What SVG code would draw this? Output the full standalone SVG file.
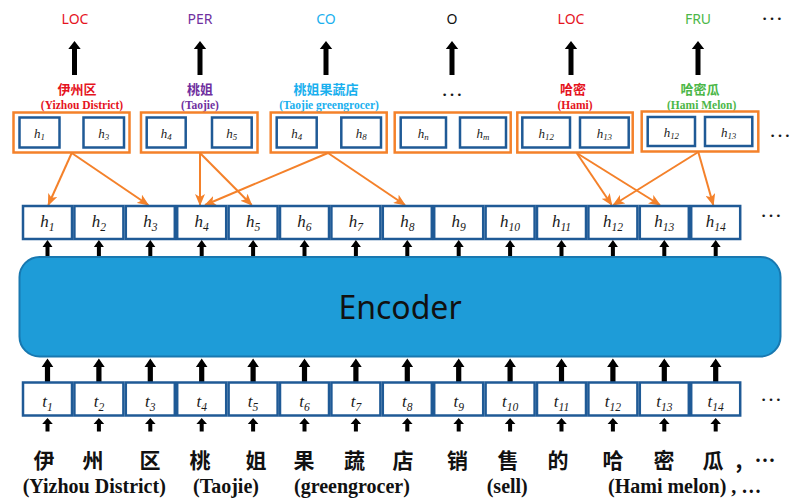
<svg xmlns="http://www.w3.org/2000/svg" xmlns:xlink="http://www.w3.org/1999/xlink" width="790" height="501" viewBox="0 0 790 501">
  <style>
    .tag { font-family: "Noto Sans", "Open Sans", sans-serif; font-size: 14px; text-anchor: middle; }
    .cn { font-family: "Noto Sans CJK SC", sans-serif; font-weight: bold; font-size: 13px; text-anchor: middle; }
    .en { font-family: "Liberation Serif", serif; font-weight: bold; font-size: 11.5px; text-anchor: middle; }
    .span { fill: #ffffff; stroke: #f4812a; stroke-width: 2.5; }
    .cell { fill: #ffffff; stroke: #1f5a96; stroke-width: 2.5; }
    .var { font-family: "Liberation Serif", serif; font-style: italic; text-anchor: middle; fill: #1a1a1a; }
    .hs { font-size: 13px; }
    .hb { font-size: 17px; }
    .sub { font-size: 0.68em; }
    .link { stroke: #f4812a; stroke-width: 2; fill: none; marker-end: url(#orangeHead); }
    .dots { font-family: "Liberation Serif", serif; font-size: 22px; fill: #1a1a1a; }
    .word { font-family: "Noto Sans CJK SC", sans-serif; font-weight: bold; font-size: 21px; text-anchor: middle; fill: #111; }
    .gloss { font-family: "Liberation Serif", serif; font-weight: bold; font-size: 20px; fill: #111; }
  </style>
  <defs>
    <marker id="orangeHead" markerUnits="userSpaceOnUse" markerWidth="12" markerHeight="10" refX="11" refY="5" orient="auto">
      <path d="M0,0 L12,5 L0,10 L3,5 Z" fill="#f4812a"/>
    </marker>
    <!-- large output arrow, tip at origin -->
    <path id="bigUp" d="M0,0 L6.2,8 L2.5,8 L2.5,34 L-2.5,34 L-2.5,8 L-6.2,8 Z" fill="#000"/>
    <!-- encoder to hidden state -->
    <path id="upA" d="M0,0 L5,7 L2,7 L2,16 L-2,16 L-2,7 L-5,7 Z" fill="#000"/>
    <!-- token to encoder -->
    <path id="upB" d="M0,0 L5.8,8.5 L2.6,8.5 L2.6,24 L-2.6,24 L-2.6,8.5 L-5.8,8.5 Z" fill="#000"/>
    <!-- word to token -->
    <path id="upC" d="M0,0 L5.3,6 L2,6 L2,13.5 L-2,13.5 L-2,6 L-5.3,6 Z" fill="#000"/>
  </defs>

  <!-- entity type labels and output arrows -->
  <g id="outputs">
    <text class="tag" x="75" y="24" fill="#e5141e">LOC</text>
    <text class="tag" x="200" y="24" fill="#7030a0">PER</text>
    <text class="tag" x="326" y="24" fill="#1ab0ee">CO</text>
    <text class="tag" x="452" y="24" fill="#111">O</text>
    <text class="tag" x="571" y="24" fill="#e5141e">LOC</text>
    <text class="tag" x="698" y="24" fill="#4cb748">FRU</text>
    <text class="dots" x="761" y="20">…</text>
    <use xlink:href="#bigUp" x="74.5" y="41"/>
    <use xlink:href="#bigUp" x="200" y="41"/>
    <use xlink:href="#bigUp" x="326" y="41"/>
    <use xlink:href="#bigUp" x="452" y="41"/>
    <use xlink:href="#bigUp" x="571" y="41"/>
    <use xlink:href="#bigUp" x="698" y="41"/>
  </g>

  <!-- candidate spans -->
  <g id="span1">
    <text class="cn" x="77" y="94" fill="#e5141e">伊州区</text>
    <text class="en" x="82" y="109" fill="#e5141e">(Yizhou District)</text>
    <rect class="span" x="13.5" y="112.5" width="116" height="40"/>
    <rect class="cell" x="19.5" y="117.5" width="40" height="30"/>
    <rect class="cell" x="83.5" y="117.5" width="40.5" height="30"/>
    <text class="var hs" x="39.5" y="137.5">h<tspan class="sub" dy="2">1</tspan></text>
    <text class="var hs" x="103.7" y="137.5">h<tspan class="sub" dy="2">3</tspan></text>
  </g>
  <g id="span2">
    <text class="cn" x="200" y="94" fill="#7030a0">桃姐</text>
    <text class="en" x="200" y="109" fill="#7030a0">(Taojie)</text>
    <rect class="span" x="141" y="112.5" width="116.5" height="40"/>
    <rect class="cell" x="146.7" y="117.5" width="39" height="30"/>
    <rect class="cell" x="212" y="117.5" width="39.7" height="30"/>
    <text class="var hs" x="166.2" y="137.5">h<tspan class="sub" dy="2">4</tspan></text>
    <text class="var hs" x="231.8" y="137.5">h<tspan class="sub" dy="2">5</tspan></text>
  </g>
  <g id="span3">
    <text class="cn" x="326" y="94" fill="#1ab0ee">桃姐果蔬店</text>
    <text class="en" x="329" y="109" fill="#1ab0ee">(Taojie greengrocer)</text>
    <rect class="span" x="270.7" y="112.5" width="116" height="40"/>
    <rect class="cell" x="276.7" y="117.5" width="40" height="30"/>
    <rect class="cell" x="341.3" y="117.5" width="39.7" height="30"/>
    <text class="var hs" x="296.7" y="137.5">h<tspan class="sub" dy="2">4</tspan></text>
    <text class="var hs" x="361.2" y="137.5">h<tspan class="sub" dy="2">8</tspan></text>
  </g>
  <g id="span4">
    <text class="dots" x="441" y="96">…</text>
    <rect class="span" x="394.7" y="112.5" width="116" height="40"/>
    <rect class="cell" x="400.7" y="117.5" width="45.3" height="30"/>
    <rect class="cell" x="460" y="117.5" width="46" height="30"/>
    <text class="var hs" x="423.3" y="137.5">h<tspan class="sub" dy="2">n</tspan></text>
    <text class="var hs" x="483" y="137.5">h<tspan class="sub" dy="2">m</tspan></text>
  </g>
  <g id="span5">
    <text class="cn" x="573" y="94" fill="#e5141e">哈密</text>
    <text class="en" x="575" y="109" fill="#e5141e">(Hami)</text>
    <rect class="span" x="517.3" y="112.5" width="115.4" height="40"/>
    <rect class="cell" x="522.3" y="117.5" width="47.7" height="30"/>
    <rect class="cell" x="580" y="117.5" width="48.7" height="30"/>
    <text class="var hs" x="546.2" y="137.5">h<tspan class="sub" dy="2">12</tspan></text>
    <text class="var hs" x="604.3" y="137.5">h<tspan class="sub" dy="2">13</tspan></text>
  </g>
  <g id="span6">
    <text class="cn" x="700" y="94" fill="#4cb748">哈密瓜</text>
    <text class="en" x="701.7" y="109" fill="#4cb748">(Hami Melon)</text>
    <rect class="span" x="641.7" y="111.5" width="116.6" height="40"/>
    <rect class="cell" x="647.7" y="117" width="47.3" height="29"/>
    <rect class="cell" x="705" y="117" width="47.3" height="29"/>
    <text class="var hs" x="671.3" y="136.5">h<tspan class="sub" dy="2">12</tspan></text>
    <text class="var hs" x="728.6" y="136.5">h<tspan class="sub" dy="2">13</tspan></text>
  </g>
  <text class="dots" x="769" y="137" font-size="14">…</text>

  <!-- span-to-state links -->
  <g id="connectors">
    <line class="link" x1="71.7" y1="153" x2="48.3" y2="205"/>
    <line class="link" x1="71.7" y1="153" x2="148.3" y2="205"/>
    <line class="link" x1="200" y1="153" x2="200" y2="205"/>
    <line class="link" x1="200" y1="153" x2="251.7" y2="205"/>
    <line class="link" x1="328" y1="153" x2="205" y2="205"/>
    <line class="link" x1="328" y1="153" x2="405" y2="205"/>
    <line class="link" x1="576.7" y1="153" x2="611.7" y2="205"/>
    <line class="link" x1="576.7" y1="153" x2="660" y2="205"/>
    <line class="link" x1="698.3" y1="152" x2="613.3" y2="205"/>
    <line class="link" x1="698.3" y1="152" x2="713.3" y2="205"/>
  </g>

  <!-- hidden states -->
  <g id="hidden">
    <rect class="cell" x="23" y="206" width="49" height="33"/>
    <rect class="cell" x="74.4" y="206" width="49" height="33"/>
    <rect class="cell" x="125.8" y="206" width="49" height="33"/>
    <rect class="cell" x="177.2" y="206" width="49" height="33"/>
    <rect class="cell" x="228.6" y="206" width="49" height="33"/>
    <rect class="cell" x="280" y="206" width="49" height="33"/>
    <rect class="cell" x="331.4" y="206" width="49" height="33"/>
    <rect class="cell" x="382.8" y="206" width="49" height="33"/>
    <rect class="cell" x="434.2" y="206" width="49" height="33"/>
    <rect class="cell" x="485.6" y="206" width="49" height="33"/>
    <rect class="cell" x="537" y="206" width="49" height="33"/>
    <rect class="cell" x="588.4" y="206" width="49" height="33"/>
    <rect class="cell" x="639.8" y="206" width="49" height="33"/>
    <rect class="cell" x="691.2" y="206" width="49" height="33"/>
    <text class="var hb" x="47.5" y="226.5">h<tspan class="sub" dy="4">1</tspan></text>
    <text class="var hb" x="98.9" y="226.5">h<tspan class="sub" dy="4">2</tspan></text>
    <text class="var hb" x="150.3" y="226.5">h<tspan class="sub" dy="4">3</tspan></text>
    <text class="var hb" x="201.7" y="226.5">h<tspan class="sub" dy="4">4</tspan></text>
    <text class="var hb" x="253.1" y="226.5">h<tspan class="sub" dy="4">5</tspan></text>
    <text class="var hb" x="304.5" y="226.5">h<tspan class="sub" dy="4">6</tspan></text>
    <text class="var hb" x="355.9" y="226.5">h<tspan class="sub" dy="4">7</tspan></text>
    <text class="var hb" x="407.3" y="226.5">h<tspan class="sub" dy="4">8</tspan></text>
    <text class="var hb" x="458.7" y="226.5">h<tspan class="sub" dy="4">9</tspan></text>
    <text class="var hb" x="510.1" y="226.5">h<tspan class="sub" dy="4">10</tspan></text>
    <text class="var hb" x="561.5" y="226.5">h<tspan class="sub" dy="4">11</tspan></text>
    <text class="var hb" x="612.9" y="226.5">h<tspan class="sub" dy="4">12</tspan></text>
    <text class="var hb" x="664.3" y="226.5">h<tspan class="sub" dy="4">13</tspan></text>
    <text class="var hb" x="715.7" y="226.5">h<tspan class="sub" dy="4">14</tspan></text>
    <text class="dots" x="760" y="217">…</text>
  </g>

  <!-- encoder to hidden arrows -->
  <g id="encoder-out">
    <use xlink:href="#upA" x="47.5" y="240"/>
    <use xlink:href="#upA" x="98.9" y="240"/>
    <use xlink:href="#upA" x="150.3" y="240"/>
    <use xlink:href="#upA" x="201.7" y="240"/>
    <use xlink:href="#upA" x="253.1" y="240"/>
    <use xlink:href="#upA" x="304.5" y="240"/>
    <use xlink:href="#upA" x="355.9" y="240"/>
    <use xlink:href="#upA" x="407.3" y="240"/>
    <use xlink:href="#upA" x="458.7" y="240"/>
    <use xlink:href="#upA" x="510.1" y="240"/>
    <use xlink:href="#upA" x="561.5" y="240"/>
    <use xlink:href="#upA" x="612.9" y="240"/>
    <use xlink:href="#upA" x="664.3" y="240"/>
    <use xlink:href="#upA" x="715.7" y="240"/>
  </g>

  <!-- encoder block -->
  <g id="encoder">
    <rect x="19.5" y="257" width="761" height="99.5" rx="20" fill="#1e9cd8" stroke="#1878b0" stroke-width="2"/>
    <text x="400" y="319" font-family="Noto Sans, Open Sans, sans-serif" font-size="32" text-anchor="middle" fill="#111">Encoder</text>
  </g>

  <!-- token to encoder arrows -->
  <g id="encoder-in">
    <use xlink:href="#upB" x="47.5" y="358.5"/>
    <use xlink:href="#upB" x="98.9" y="358.5"/>
    <use xlink:href="#upB" x="150.3" y="358.5"/>
    <use xlink:href="#upB" x="201.7" y="358.5"/>
    <use xlink:href="#upB" x="253.1" y="358.5"/>
    <use xlink:href="#upB" x="304.5" y="358.5"/>
    <use xlink:href="#upB" x="355.9" y="358.5"/>
    <use xlink:href="#upB" x="407.3" y="358.5"/>
    <use xlink:href="#upB" x="458.7" y="358.5"/>
    <use xlink:href="#upB" x="510.1" y="358.5"/>
    <use xlink:href="#upB" x="561.5" y="358.5"/>
    <use xlink:href="#upB" x="612.9" y="358.5"/>
    <use xlink:href="#upB" x="664.3" y="358.5"/>
    <use xlink:href="#upB" x="715.7" y="358.5"/>
  </g>

  <!-- tokens -->
  <g id="tokens">
    <rect class="cell" x="23" y="382.5" width="49" height="33"/>
    <rect class="cell" x="74.4" y="382.5" width="49" height="33"/>
    <rect class="cell" x="125.8" y="382.5" width="49" height="33"/>
    <rect class="cell" x="177.2" y="382.5" width="49" height="33"/>
    <rect class="cell" x="228.6" y="382.5" width="49" height="33"/>
    <rect class="cell" x="280" y="382.5" width="49" height="33"/>
    <rect class="cell" x="331.4" y="382.5" width="49" height="33"/>
    <rect class="cell" x="382.8" y="382.5" width="49" height="33"/>
    <rect class="cell" x="434.2" y="382.5" width="49" height="33"/>
    <rect class="cell" x="485.6" y="382.5" width="49" height="33"/>
    <rect class="cell" x="537" y="382.5" width="49" height="33"/>
    <rect class="cell" x="588.4" y="382.5" width="49" height="33"/>
    <rect class="cell" x="639.8" y="382.5" width="49" height="33"/>
    <rect class="cell" x="691.2" y="382.5" width="49" height="33"/>
    <text class="var hb" x="47.5" y="406.5">t<tspan class="sub" dy="4">1</tspan></text>
    <text class="var hb" x="98.9" y="406.5">t<tspan class="sub" dy="4">2</tspan></text>
    <text class="var hb" x="150.3" y="406.5">t<tspan class="sub" dy="4">3</tspan></text>
    <text class="var hb" x="201.7" y="406.5">t<tspan class="sub" dy="4">4</tspan></text>
    <text class="var hb" x="253.1" y="406.5">t<tspan class="sub" dy="4">5</tspan></text>
    <text class="var hb" x="304.5" y="406.5">t<tspan class="sub" dy="4">6</tspan></text>
    <text class="var hb" x="355.9" y="406.5">t<tspan class="sub" dy="4">7</tspan></text>
    <text class="var hb" x="407.3" y="406.5">t<tspan class="sub" dy="4">8</tspan></text>
    <text class="var hb" x="458.7" y="406.5">t<tspan class="sub" dy="4">9</tspan></text>
    <text class="var hb" x="510.1" y="406.5">t<tspan class="sub" dy="4">10</tspan></text>
    <text class="var hb" x="561.5" y="406.5">t<tspan class="sub" dy="4">11</tspan></text>
    <text class="var hb" x="612.9" y="406.5">t<tspan class="sub" dy="4">12</tspan></text>
    <text class="var hb" x="664.3" y="406.5">t<tspan class="sub" dy="4">13</tspan></text>
    <text class="var hb" x="715.7" y="406.5">t<tspan class="sub" dy="4">14</tspan></text>
    <text class="dots" x="760" y="401">…</text>
  </g>

  <!-- word to token arrows -->
  <g id="token-in">
    <use xlink:href="#upC" x="47.5" y="418"/>
    <use xlink:href="#upC" x="98.9" y="418"/>
    <use xlink:href="#upC" x="150.3" y="418"/>
    <use xlink:href="#upC" x="201.7" y="418"/>
    <use xlink:href="#upC" x="253.1" y="418"/>
    <use xlink:href="#upC" x="304.5" y="418"/>
    <use xlink:href="#upC" x="355.9" y="418"/>
    <use xlink:href="#upC" x="407.3" y="418"/>
    <use xlink:href="#upC" x="458.7" y="418"/>
    <use xlink:href="#upC" x="510.1" y="418"/>
    <use xlink:href="#upC" x="561.5" y="418"/>
    <use xlink:href="#upC" x="612.9" y="418"/>
    <use xlink:href="#upC" x="664.3" y="418"/>
    <use xlink:href="#upC" x="715.7" y="418"/>
  </g>

  <!-- input sentence -->
  <g id="sentence">
    <text class="word" x="44" y="468">伊</text>
    <text class="word" x="93" y="468">州</text>
    <text class="word" x="150" y="468">区</text>
    <text class="word" x="200" y="468">桃</text>
    <text class="word" x="256" y="468">姐</text>
    <text class="word" x="304" y="468">果</text>
    <text class="word" x="354.5" y="468">蔬</text>
    <text class="word" x="403" y="468">店</text>
    <text class="word" x="457.5" y="468">销</text>
    <text class="word" x="508" y="468">售</text>
    <text class="word" x="558" y="468">的</text>
    <text class="word" x="613" y="468">哈</text>
    <text class="word" x="664" y="468">密</text>
    <text class="word" x="713" y="468">瓜</text>
    <text class="word" x="739" y="468">,</text>
    <text class="word" x="765" y="468">…</text>
    <text class="gloss" x="22.7" y="493">(Yizhou District)</text>
    <text class="gloss" x="193" y="493">(Taojie)</text>
    <text class="gloss" x="294" y="493">(greengrocer)</text>
    <text class="gloss" x="486.7" y="493">(sell)</text>
    <text class="gloss" x="608" y="493">(Hami melon) , …</text>
  </g>
</svg>
